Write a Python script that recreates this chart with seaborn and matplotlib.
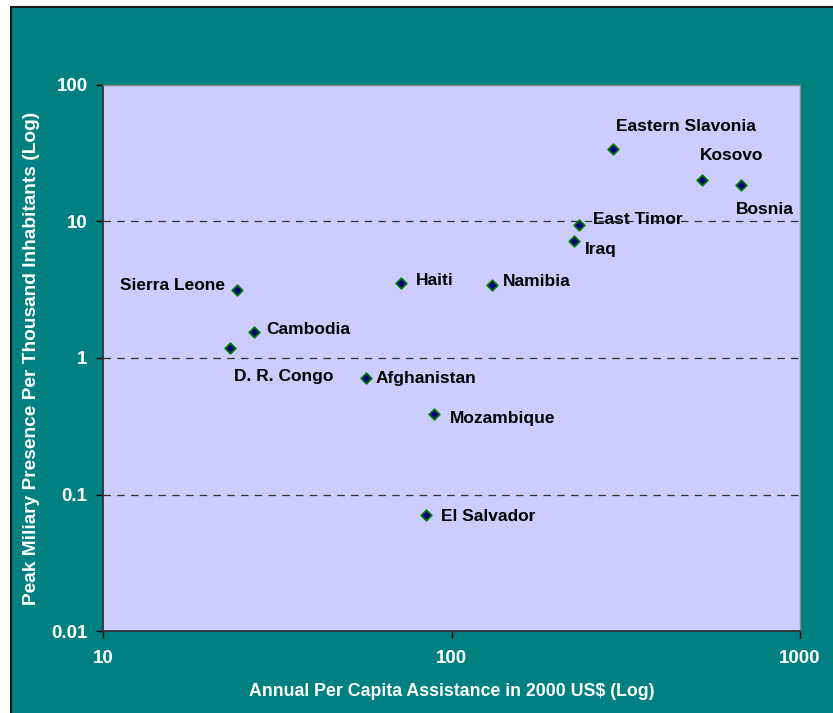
import matplotlib
matplotlib.use('Agg')
import matplotlib.pyplot as plt
from matplotlib.patches import Rectangle
import pandas as pd
import seaborn as sns

sns.set_style('white')
plt.rcParams['font.family'] = ['Liberation Sans', 'DejaVu Sans']
plt.rcParams['font.weight'] = 'bold'

# ---------------------------------------------------------------------------
# data
countries = ['Eastern Slavonia', 'Kosovo', 'Bosnia', 'East Timor', 'Iraq',
             'Haiti', 'Namibia', 'Sierra Leone', 'Cambodia', 'D. R. Congo',
             'Afghanistan', 'Mozambique', 'El Salvador']
assistance = [290, 525, 677, 232, 225, 71.6, 130.6, 24.2, 27.1, 23.1, 56.9, 89.1, 84.5]
military = [34, 20.3, 18.5, 9.4, 7.2, 3.54, 3.43, 3.15, 1.55, 1.18, 0.71, 0.39, 0.071]

# label offsets in pixels (dx, dy, alignment)
offsets = {
    'Eastern Slavonia': (3, 22, 'left'),
    'Kosovo': (-3, 24, 'left'),
    'Bosnia': (-5, -24, 'left'),
    'East Timor': (14, 6, 'left'),
    'Iraq': (11, -9, 'left'),
    'Haiti': (15, 3, 'left'),
    'Namibia': (11, 3, 'left'),
    'Sierra Leone': (-12, 4, 'right'),
    'Cambodia': (12, 3, 'left'),
    'D. R. Congo': (4, -28, 'left'),
    'Afghanistan': (9, 0, 'left'),
    'Mozambique': (16, -5, 'left'),
    'El Salvador': (15, -2, 'left'),
}

df = pd.DataFrame({'country': countries, 'assistance': assistance, 'military': military})

teal = '#008080'
fig = plt.figure(figsize=(8.33, 7.13), dpi=100)
fig.patch.set_facecolor('white')
# teal chart area with dark border (white strip left and top)
bg = Rectangle((11 / 833, -0.01), 1.0, (706 / 713) + 0.01,
               transform=fig.transFigure, facecolor=teal,
               edgecolor='#1a1a1a', linewidth=1.5, zorder=-10)
fig.add_artist(bg)

ax = fig.add_axes([103 / 833, 82 / 713, 697 / 833, 546 / 713])
ax.set_zorder(1)
ax.set_facecolor('#ccccff')

sns.scatterplot(data=df, x='assistance', y='military', marker='D', s=30,
                color='#000080', edgecolor='#008000', linewidth=1.2, ax=ax,
                zorder=3)

ax.set_xscale('log')
ax.set_yscale('log')
ax.set_xlim(10, 1000)
ax.set_ylim(0.01, 100)
ax.set_xticks([10, 100, 1000])
ax.set_xticklabels(['10', '100', '1000'])
ax.set_yticks([0.01, 0.1, 1, 10, 100])
ax.set_yticklabels(['0.01', '0.1', '1', '10', '100'])
ax.minorticks_off()
ax.tick_params(axis='both', which='major', direction='out', length=5, width=1,
               color='black', labelcolor='white', labelsize=13.5,
               bottom=True, left=True)
ax.tick_params(axis='x', pad=9)
ax.tick_params(axis='y', pad=6)
for lab in ax.get_xticklabels() + ax.get_yticklabels():
    lab.set_fontweight('bold')

for y in [0.1, 1, 10]:
    ax.axhline(y, color='#333333', linestyle=(0, (6, 5)), linewidth=0.9, zorder=1)

for side in ['left', 'bottom']:
    ax.spines[side].set_color('#333333')
    ax.spines[side].set_linewidth(1.3)
for side in ['right', 'top']:
    ax.spines[side].set_color('#888888')
    ax.spines[side].set_linewidth(1.0)

for c, xv, yv in zip(countries, assistance, military):
    dx, dy, ha = offsets[c]
    ax.annotate(c, (xv, yv), xytext=(dx, dy), textcoords='offset pixels',
                ha=ha, va='center', fontsize=12.5, fontweight='bold',
                color='black', zorder=4)

ax.set_xlabel('Annual Per Capita Assistance in 2000 US$ (Log)', color='white',
              fontsize=12.8, fontweight='bold', labelpad=11)
ax.set_ylabel('Peak Miliary Presence Per Thousand Inhabitants (Log)', color='white',
              fontsize=13.8, fontweight='bold', labelpad=8)

fig.savefig('out.png', dpi=100, facecolor=fig.get_facecolor())
